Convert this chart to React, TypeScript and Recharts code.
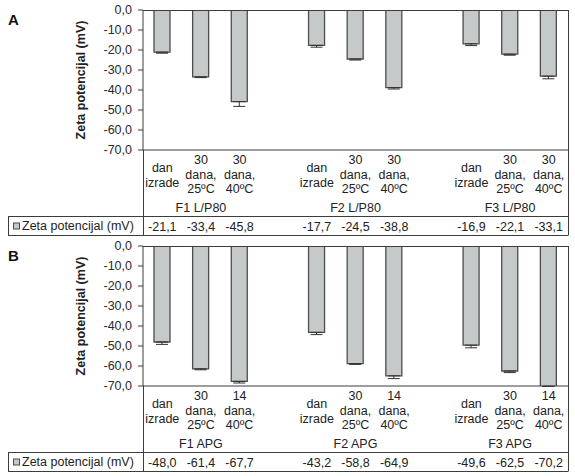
import type { FC, JSX } from 'react'
import { BarChart, Bar, XAxis, YAxis, ErrorBar } from 'recharts'

// Zeta potential (mV) per formulation and storage condition
const groupsA = ['F1 L/P80', 'F2 L/P80', 'F3 L/P80']
const conditionsA = [['dan', 'izrade'], ['30', 'dana,', '25ºC'], ['30', 'dana,', '40ºC']]
const zetaA = [-21.1, -33.4, -45.8, -17.7, -24.5, -38.8, -16.9, -22.1, -33.1]
const sdA = [0.5, 0.4, 2.4, 0.9, 0.5, 0.7, 0.9, 0.5, 1.3]

const groupsB = ['F1 APG', 'F2 APG', 'F3 APG']
const conditionsB = [['dan', 'izrade'], ['30', 'dana,', '25ºC'], ['14', 'dana,', '40ºC']]
const zetaB = [-48.0, -61.4, -67.7, -43.2, -58.8, -64.9, -49.6, -62.5, -70.2]
const sdB = [1.2, 0.5, 0.8, 1.1, 0.4, 1.4, 1.3, 0.8, 0]

const yTicks = [0, -10, -20, -30, -40, -50, -60, -70]
const seriesName = 'Zeta potencijal (mV)'

const W = 575
const H = 236
const PLOT_LEFT = 143
const PLOT_RIGHT = 568
const PLOT_TOP = 10
const PLOT_BOTTOM = 150
const LINE = '#3c3c3c'
const FONT = '"Liberation Sans", Arial, sans-serif'

interface Row {
  key: string
  v: number | null
  err?: [number, number]
  cond?: string[]
  group?: string
  mid?: boolean
}

// three bars per formulation, an empty slot between formulations
const buildRows = (groups: string[], conds: string[][], vals: number[], sds: number[]): Row[] => {
  const rows: Row[] = []
  groups.forEach((g, gi) => {
    conds.forEach((c, ci) => {
      const idx = gi * 3 + ci
      rows.push({ key: `${g}-${ci}`, v: vals[idx], err: [sds[idx], 0], cond: c, group: g, mid: ci === 1 })
    })
    if (gi < groups.length - 1) rows.push({ key: `gap-${gi}`, v: null })
  })
  return rows
}

const fmt = (n: number) => n.toFixed(1).replace('.', ',')

const makeTick = (rows: Row[]) => (props: any) => {
  const { x, y, payload } = props
  const row = rows.find(r => r.key === payload.value)
  if (!row || row.v === null) return <g />
  const lines = row.cond || []
  const offsets = lines.length === 2 ? [17.5, 32.5] : [10, 24.5, 39]
  return (
    <g fontFamily={FONT} fontSize={12.5} fill="#222">
      {lines.map((l, i) => (
        <text key={i} x={x} y={y + offsets[i]} textAnchor="middle" dominantBaseline="central">{l}</text>
      ))}
      {row.mid && (
        <text x={x} y={y + 58} textAnchor="middle" dominantBaseline="central">{row.group}</text>
      )}
      <text x={x} y={y + 76.5} textAnchor="middle" dominantBaseline="central">{fmt(row.v)}</text>
    </g>
  )
}

interface PanelProps {
  letter: string
  rows: Row[]
}

const Panel: FC<PanelProps> = ({ letter, rows }): JSX.Element => {
  const tableTop = PLOT_BOTTOM + 66.5
  const tableBottom = H - 0.5
  return (
    <div style={{ position: 'relative', width: W, height: H }}>
      <BarChart
        width={W}
        height={H}
        data={rows}
        margin={{ top: PLOT_TOP, right: W - PLOT_RIGHT, left: 0, bottom: 0 }}
        barCategoryGap="10%"
      >
        <XAxis
          dataKey="key"
          interval={0}
          height={H - PLOT_BOTTOM}
          tickSize={0}
          tickMargin={0}
          tickLine={false}
          axisLine={{ stroke: LINE }}
          tick={makeTick(rows)}
        />
        <YAxis
          type="number"
          domain={[-70, 0]}
          ticks={yTicks}
          interval={0}
          allowDataOverflow
          width={PLOT_LEFT}
          tickSize={5}
          tickMargin={6}
          tickFormatter={fmt}
          tick={{ fontSize: 12.5, fill: '#2a2a2a', fontFamily: FONT }}
          tickLine={{ stroke: LINE }}
          axisLine={{ stroke: LINE }}
        />
        <Bar dataKey="v" fill="#c5c9c9" stroke="#4d4d4d" strokeWidth={1.3} barSize={16} isAnimationActive={false}>
          <ErrorBar dataKey="err" direction="y" width={6} stroke="#333" strokeWidth={1} />
        </Bar>
      </BarChart>
      <svg width={W} height={H} style={{ position: 'absolute', left: 0, top: 0, pointerEvents: 'none' }}>
        <g stroke={LINE} strokeWidth={1} fill="none">
          <line x1={PLOT_LEFT} y1={PLOT_TOP + 0.5} x2={PLOT_RIGHT} y2={PLOT_TOP + 0.5} />
          <line x1={PLOT_RIGHT + 0.5} y1={PLOT_TOP} x2={PLOT_RIGHT + 0.5} y2={tableBottom} />
          <line x1={PLOT_LEFT + 0.5} y1={PLOT_BOTTOM} x2={PLOT_LEFT + 0.5} y2={tableBottom} />
          <line x1={8} y1={tableTop} x2={PLOT_RIGHT} y2={tableTop} />
          <line x1={8} y1={tableBottom} x2={PLOT_RIGHT} y2={tableBottom} />
          <line x1={8.5} y1={tableTop} x2={8.5} y2={tableBottom} />
          <rect x={13.5} y={(tableTop + tableBottom) / 2 - 3} width={6} height={6} fill="#c5c9c9" stroke="#4d4d4d" />
        </g>
        <text x={22} y={(tableTop + tableBottom) / 2} dominantBaseline="central" fontFamily={FONT} fontSize={12.5} fill="#222">
          {seriesName}
        </text>
        <text x={8} y={25} fontFamily={FONT} fontSize={15} fontWeight="bold" fill="#111">{letter}</text>
        <text
          transform={`translate(81, ${(PLOT_TOP + PLOT_BOTTOM) / 2}) rotate(-90)`}
          textAnchor="middle"
          dominantBaseline="central"
          fontFamily={FONT}
          fontSize={12.5}
          fontWeight="bold"
          fill="#222"
        >
          {seriesName}
        </text>
      </svg>
    </div>
  )
}

export default function App(): JSX.Element {
  const rowsA = buildRows(groupsA, conditionsA, zetaA, sdA)
  const rowsB = buildRows(groupsB, conditionsB, zetaB, sdB)
  return (
    <div style={{ position: 'absolute', left: 0, top: 0, width: W, height: 476, background: '#fff' }}>
      <Panel letter="A" rows={rowsA} />
      <Panel letter="B" rows={rowsB} />
    </div>
  )
}
